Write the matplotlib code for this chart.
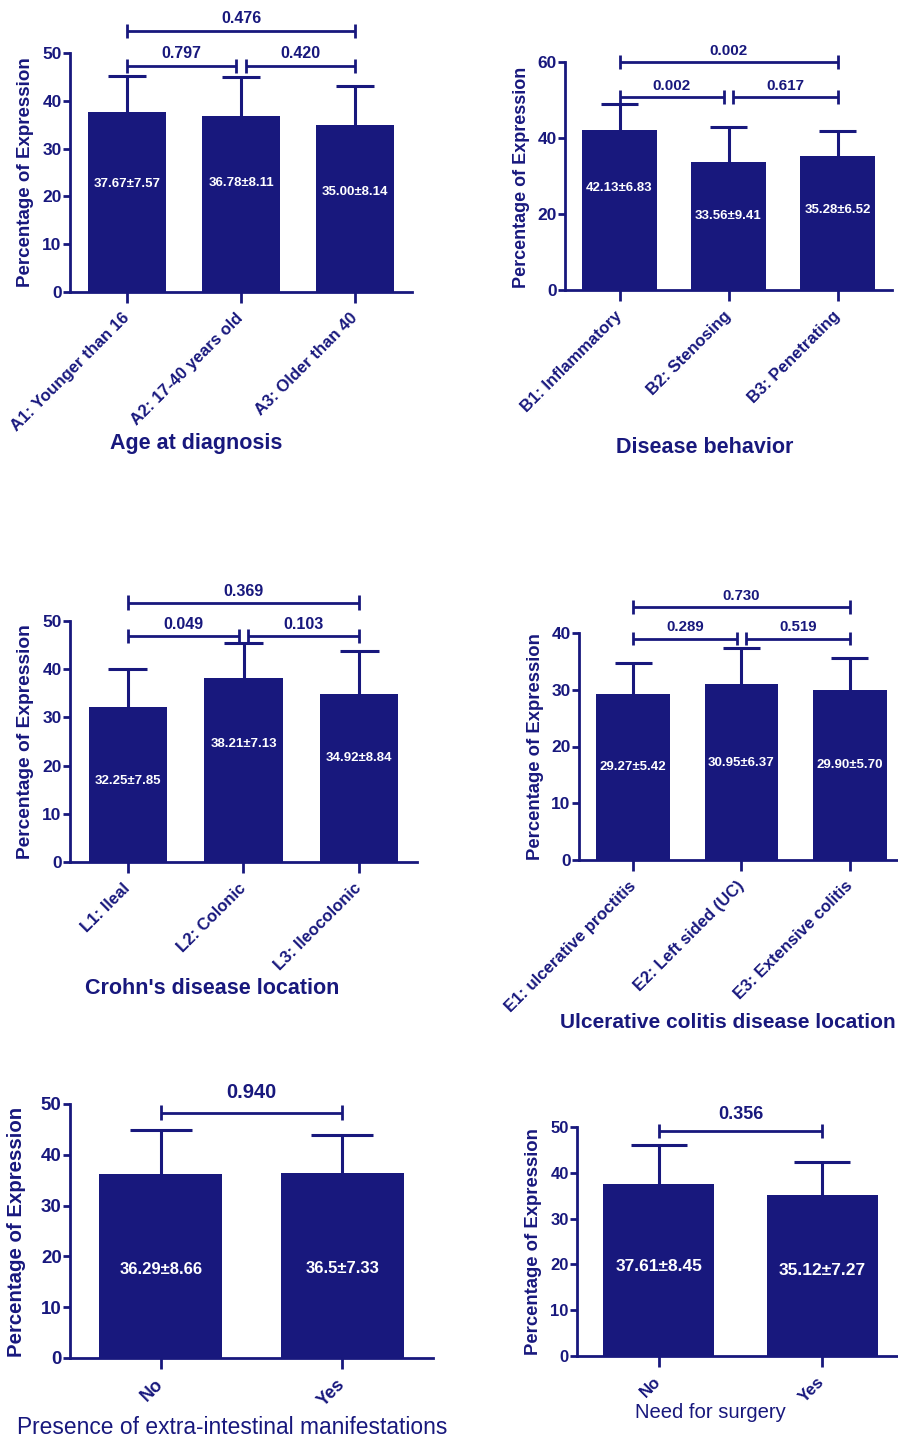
import numpy as np
import matplotlib
matplotlib.use("Agg")
import matplotlib.pyplot as plt

plt.rcParams["font.family"] = ["Liberation Sans", "DejaVu Sans"]
navy = "#18187d"

# ---- data ----
age_cats = ["A1: Younger than 16", "A2: 17-40 years old", "A3: Older than 40"]
age_mean = [37.67, 36.78, 35.00]
age_sd = [7.57, 8.11, 8.14]
age_text = ["37.67±7.57", "36.78±8.11", "35.00±8.14"]
age_p = ["0.797", "0.420", "0.476"]

beh_cats = ["B1: Inflammatory", "B2: Stenosing", "B3: Penetrating"]
beh_mean = [42.13, 33.56, 35.28]
beh_sd = [6.83, 9.41, 6.52]
beh_text = ["42.13±6.83", "33.56±9.41", "35.28±6.52"]
beh_p = ["0.002", "0.617", "0.002"]

cd_cats = ["L1: Ileal", "L2: Colonic", "L3: Ileocolonic"]
cd_mean = [32.25, 38.21, 34.92]
cd_sd = [7.85, 7.13, 8.84]
cd_text = ["32.25±7.85", "38.21±7.13", "34.92±8.84"]
cd_p = ["0.049", "0.103", "0.369"]

uc_cats = ["E1: ulcerative proctitis", "E2: Left sided (UC)", "E3: Extensive colitis"]
uc_mean = [29.27, 30.95, 29.90]
uc_sd = [5.42, 6.37, 5.70]
uc_text = ["29.27±5.42", "30.95±6.37", "29.90±5.70"]
uc_p = ["0.289", "0.519", "0.730"]

eim_cats = ["No", "Yes"]
eim_mean = [36.29, 36.5]
eim_sd = [8.66, 7.33]
eim_text = ["36.29±8.66", "36.5±7.33"]
eim_p = ["0.940"]

surg_cats = ["No", "Yes"]
surg_mean = [37.61, 35.12]
surg_sd = [8.45, 7.27]
surg_text = ["37.61±8.45", "35.12±7.27"]
surg_p = ["0.356"]

W, H = 898, 1441
fig = plt.figure(figsize=(W / 100, H / 100), dpi=100)


def bracket(ax, x1, x2, y, h, txt, ty, fs):
    kw = dict(color=navy, lw=2.0, clip_on=False, solid_capstyle="butt")
    ax.plot([x1, x2], [y, y], **kw)
    ax.plot([x1, x1], [y - h, y + h], **kw)
    ax.plot([x2, x2], [y - h, y + h], **kw)
    ax.text((x1 + x2) / 2, ty, txt, ha="center", va="center", fontsize=fs,
            fontweight="bold", color=navy, clip_on=False)


def panel(box, ymax, ystep, cats, mean, sd, text, pvals, label_frac,
          levels, xlabel, xlabel_pos, ylabel_pos, sizes, xlabel_bold=True,
          mean_bold=True):
    left, right, top, bottom = box
    ax = fig.add_axes([left / W, 1 - bottom / H, (right - left) / W, (bottom - top) / H])
    x = np.arange(len(cats))
    mean = np.array(mean)
    sd = np.array(sd)
    ax.bar(x, mean, width=0.68, color=navy, zorder=2)
    ax.vlines(x, mean, mean + sd, color=navy, lw=2.2, zorder=1)
    ax.hlines(mean + sd, x - 0.17, x + 0.17, color=navy, lw=2.2, zorder=1)
    for xi, m, t, f in zip(x, mean, text, label_frac):
        ax.text(xi, m * f, t, ha="center", va="center", color="white",
                fontsize=sizes["mean"], fontweight="bold" if mean_bold else "normal",
                zorder=3)

    ax.set_xlim(-0.5, len(cats) - 0.5)
    ax.set_ylim(0, ymax)
    yt = np.arange(0, ymax + 1, ystep)
    ax.set_yticks(yt)
    ax.set_yticklabels([str(int(v)) for v in yt], fontsize=sizes["ytick"],
                       fontweight="bold", color=navy)
    ax.set_xticks(x)
    ax.set_xticklabels(cats, rotation=45, ha="right", va="center",
                       rotation_mode="anchor", fontsize=sizes["xtick"],
                       fontweight="bold", color=navy)
    ax.tick_params(axis="x", length=8, width=2, color=navy, pad=9)
    ax.tick_params(axis="y", length=5, width=2, color=navy, pad=1)
    for s in ["top", "right"]:
        ax.spines[s].set_visible(False)
    for s in ["left", "bottom"]:
        ax.spines[s].set_color(navy)
        ax.spines[s].set_linewidth(2)

    h = 0.03 * ymax
    if len(cats) == 3:
        low, high = levels
        off = sizes["poff"]
        bracket(ax, 0, 0.96, low, h, pvals[0], low + off, sizes["p"])
        bracket(ax, 1.04, 2, low, h, pvals[1], low + off, sizes["p"])
        bracket(ax, 0, 2, high, h, pvals[2], high + off, sizes["p"])
    else:
        lvl = levels[0]
        bracket(ax, 0, 1, lvl, h, pvals[0], lvl + sizes["poff"], sizes["p"])

    fig.text(xlabel_pos[0] / W, 1 - xlabel_pos[1] / H, xlabel, ha="center",
             va="center", fontsize=sizes["xlabel"], color=navy,
             fontweight="bold" if xlabel_bold else "normal")
    fig.text(ylabel_pos[0] / W, 1 - ylabel_pos[1] / H, "Percentage of Expression",
             rotation=90, ha="center", va="center", fontsize=sizes["ylabel"],
             fontweight="bold", color=navy)
    return ax


top_sizes = dict(mean=9.5, ytick=12.5, xtick=12, p=11.5, poff=2.7, xlabel=15.5, ylabel=13.5)

panel((70, 412, 53, 292), 50, 10, age_cats, age_mean, age_sd, age_text, age_p,
      [0.6, 0.62, 0.6], (47.3, 54.6), "Age at diagnosis", (196, 443), (26, 172),
      top_sizes)

panel((565, 892, 62, 290), 60, 20, beh_cats, beh_mean, beh_sd, beh_text, beh_p,
      [0.64, 0.58, 0.6], (50.8, 60.0), "Disease behavior", (705, 448), (522, 177),
      dict(top_sizes, p=11, poff=3.0, ylabel=13))

panel((70, 417, 621, 862), 50, 10, cd_cats, cd_mean, cd_sd, cd_text, cd_p,
      [0.52, 0.64, 0.62], (46.9, 53.8), "Crohn's disease location", (212, 988),
      (26, 742), dict(top_sizes, poff=2.3, ylabel=13.8))

panel((579, 904, 633, 860), 40, 10, uc_cats, uc_mean, uc_sd, uc_text, uc_p,
      [0.56, 0.55, 0.56], (39.0, 44.6), "Ulcerative colitis disease location",
      (728, 1022), (535, 747), dict(top_sizes, p=10.8, poff=2.0, ylabel=13.3,
                                     xlabel=15))

panel((70, 433, 1104, 1358), 50, 10, eim_cats, eim_mean, eim_sd, eim_text, eim_p,
      [0.48, 0.48], (48.3,), "Presence of extra-intestinal manifestations",
      (232, 1428), (17, 1232),
      dict(mean=12, ytick=13.5, xtick=13, p=14.5, poff=3.9, xlabel=16.4, ylabel=14.7),
      xlabel_bold=False)

panel((577, 904, 1127, 1356), 50, 10, surg_cats, surg_mean, surg_sd, surg_text,
      surg_p, [0.52, 0.53], (49.2,), "Need for surgery", (710, 1413), (533, 1242),
      dict(mean=12.5, ytick=12, xtick=12, p=13, poff=3.6, xlabel=14.6, ylabel=13.3),
      xlabel_bold=False)

fig.savefig("out.png", dpi=100)
